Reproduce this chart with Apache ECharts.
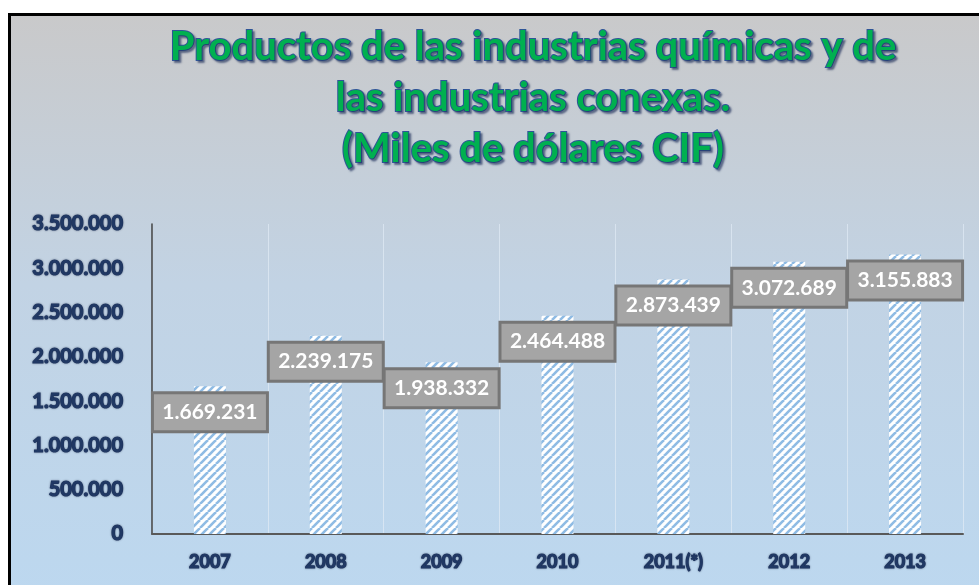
<!DOCTYPE html>
<html>
<head>
<meta charset="utf-8">
<script src="https://cdn.jsdelivr.net/npm/echarts@6/dist/echarts.min.js"></script>
<style>
  html, body { margin: 0; padding: 0; background: #ffffff; }
  #chart { width: 979px; height: 585px; }
</style>
</head>
<body>
<div id="chart"></div>
<script>
// datos
const years = ['2007', '2008', '2009', '2010', '2011(*)', '2012', '2013'];
const values = [1669231, 2239175, 1938332, 2464488, 2873439, 3072689, 3155883];
const titleLines = [
  'Productos de las industrias químicas y de',
  'las industrias conexas.',
  '(Miles de dólares CIF)'
];

const FONT = 'Lato, "Open Sans", sans-serif';
const NAVY = '#203864';

function fmtThousands(v) {
  return String(v).replace(/\B(?=(\d{3})+(?!\d))/g, '.');
}

// trama diagonal de las barras
function hatchPattern() {
  const c = document.createElement('canvas');
  c.width = 8;
  c.height = 8;
  const ctx = c.getContext('2d');
  ctx.fillStyle = '#ffffff';
  ctx.fillRect(0, 0, 8, 8);
  ctx.strokeStyle = '#8fbbe4';
  ctx.lineWidth = 2.6;
  for (let k = -8; k <= 16; k += 8) {
    ctx.beginPath();
    ctx.moveTo(k, 8);
    ctx.lineTo(k + 8, 0);
    ctx.stroke();
  }
  return c;
}

const chart = echarts.init(document.getElementById('chart'), null, { renderer: 'canvas' });

const axisText = {
  fontFamily: FONT,
  fontWeight: 'bold',
  color: NAVY,
  textBorderColor: NAVY,
  textBorderWidth: 1.2,
  textShadowColor: 'rgba(20, 30, 60, 0.45)',
  textShadowBlur: 2
};

chart.setOption({
  animation: false,
  backgroundColor: '#ffffff',
  graphic: [
    {
      type: 'rect',
      z: -10,
      silent: true,
      shape: { x: 9.5, y: 14.5, width: 990, height: 600 },
      style: {
        fill: new echarts.graphic.LinearGradient(0, 0, 0, 1, [
          { offset: 0, color: '#c9c9ca' },
          { offset: 0.45, color: '#c2d3e4' },
          { offset: 1, color: '#bcd8f0' }
        ]),
        stroke: '#000000',
        lineWidth: 3
      }
    }
  ],
  title: {
    text: titleLines.join('\n'),
    left: 528,
    top: 17,
    textAlign: 'center',
    textStyle: {
      fontFamily: FONT,
      fontSize: 40,
      fontWeight: 'bold',
      lineHeight: 51,
      color: '#00b050',
      textBorderColor: '#2e5597',
      textBorderWidth: 2,
      textShadowColor: 'rgba(30, 45, 90, 0.55)',
      textShadowBlur: 2,
      textShadowOffsetX: 2,
      textShadowOffsetY: 2
    }
  },
  grid: { left: 152, right: 16, top: 224, bottom: 51, containLabel: false },
  xAxis: {
    type: 'category',
    data: years,
    axisLine: { lineStyle: { color: '#595959', width: 2 } },
    axisTick: { show: false },
    splitLine: { show: true, lineStyle: { color: 'rgba(225, 235, 245, 0.7)', width: 1 } },
    axisLabel: Object.assign({ margin: 19, fontSize: 18 }, axisText)
  },
  yAxis: {
    type: 'value',
    min: 0,
    max: 3500000,
    interval: 500000,
    axisLine: { show: true, lineStyle: { color: '#404040', width: 1.5 } },
    axisTick: { show: false },
    splitLine: { show: false },
    axisLabel: Object.assign({
      margin: 29,
      fontSize: 20,
      formatter: (v) => fmtThousands(v)
    }, axisText)
  },
  series: [
    {
      type: 'bar',
      data: values,
      barWidth: 32,
      itemStyle: { color: { image: hatchPattern(), repeat: 'repeat' } },
      label: {
        show: true,
        position: 'insideTop',
        distance: 8,
        formatter: (p) => fmtThousands(p.value),
        fontFamily: FONT,
        fontSize: 21,
        fontWeight: 'bold',
        color: '#ffffff',
        backgroundColor: '#a5a5a5',
        borderColor: '#767676',
        borderWidth: 3,
        padding: [6, 8],
        width: 96,
        lineHeight: 24,
        align: 'center'
      }
    }
  ]
});
</script>
</body>
</html>
